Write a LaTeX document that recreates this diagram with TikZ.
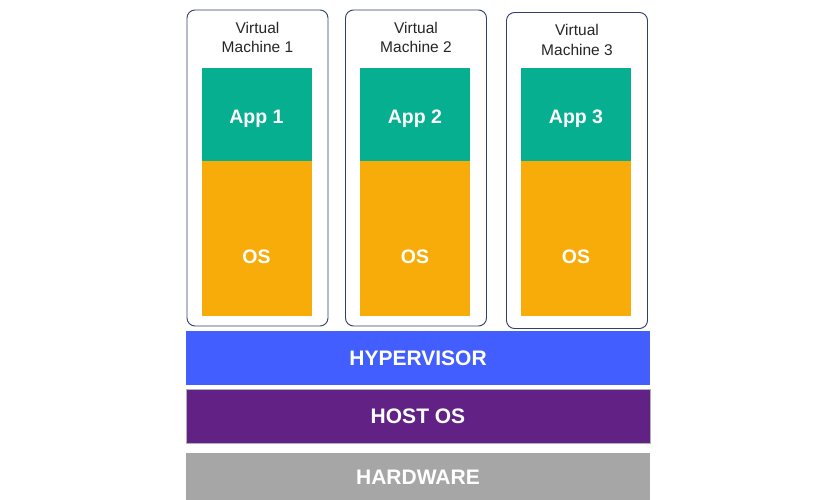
\documentclass[tikz,border=0pt]{standalone}
\usepackage{fontspec}
\setmainfont{Liberation Sans}
\usepackage{xcolor}
\usetikzlibrary{calc,positioning}
\definecolor{appgreen}{RGB}{7,175,145}
\definecolor{osorange}{RGB}{248,172,10}
\definecolor{hypblue}{RGB}{66,94,255}
\definecolor{hostpurple}{RGB}{98,34,133}
\definecolor{hwgray}{RGB}{166,166,166}
\definecolor{vmline}{RGB}{50,62,110}

\begin{document}
\begin{tikzpicture}[x=1pt,y=-1pt,
  vm/.style={draw=vmline,line width=0.9pt,rounded corners=8pt,fill=white,minimum width=141pt,minimum height=316pt},
  vmlabel/.style={align=center,font=\fontsize{15.5}{19.5}\selectfont,anchor=north,text=black!85},
  blk/.style={inner sep=0pt,minimum width=110pt,minimum height=#1,fill=white,text depth=0pt,
              text=white,font=\fontsize{19.5}{22}\selectfont\bfseries},
  layer/.style={inner sep=0pt,minimum width=464pt,minimum height=#1,
                text=white,font=\fontsize{21}{24}\selectfont\bfseries}]
  \useasboundingbox (0,0) rectangle (830,500);
  \foreach \i/\x/\y in {1/257.5/168,2/416/168,3/577/170.5} {
    \node[vm] (vm\i) at (\x,\y) {};
    \node[vmlabel] (lab\i) at ($(vm\i.north)+(0,9)$) {Virtual\\Machine \i};
    \node[blk=93pt,fill=appgreen,text height=19pt] (app\i) at (\x-1,114.5) {App \i};
    \node[blk=155pt,fill=osorange,text height=49pt,below=0pt of app\i] (os\i) {OS};
  }
  \node[layer=54pt,fill=hypblue] (hyp) at (418,358) {HYPERVISOR};
  \node[layer=54pt,fill=hostpurple,draw=black!30,below=4pt of hyp] (host) {HOST OS};
  \node[layer=48pt,fill=hwgray,below=9pt of host] (hw) {HARDWARE};
\end{tikzpicture}
\end{document}
